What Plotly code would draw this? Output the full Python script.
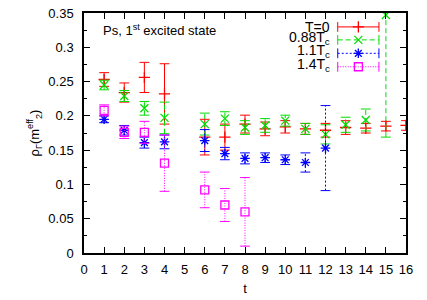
import plotly.graph_objects as go

# ---- data ----
t_T0 = [1, 2, 3, 4, 6, 7, 8, 9, 10, 11, 12, 13, 14, 15, 16]
v_T0 = [0.253, 0.234, 0.256, 0.232, 0.169, 0.169, 0.188, 0.181, 0.184, 0.181, 0.179, 0.183, 0.182, 0.185, 0.186]
e_T0 = [0.010, 0.014, 0.022, 0.044, 0.026, 0.019, 0.013, 0.010, 0.009, 0.008, 0.010, 0.010, 0.007, 0.007, 0.007]

t_088 = [1, 2, 3, 4, 6, 7, 8, 9, 10, 11, 12, 13, 14, 15]
v_088 = [0.245, 0.229, 0.211, 0.197, 0.188, 0.196, 0.183, 0.186, 0.193, 0.181, 0.173, 0.187, 0.194, 0.347]
e_088 = [0.007, 0.008, 0.010, 0.023, 0.016, 0.010, 0.010, 0.010, 0.008, 0.008, 0.014, 0.011, 0.016, 0.178]

t_11 = [1, 2, 3, 4, 6, 7, 8, 9, 10, 11, 12]
v_11 = [0.195, 0.179, 0.161, 0.162, 0.164, 0.145, 0.138, 0.139, 0.136, 0.132, 0.153]
e_11 = [0.005, 0.007, 0.008, 0.010, 0.016, 0.009, 0.008, 0.007, 0.007, 0.014, 0.062]

t_14 = [1, 2, 3, 4, 6, 7, 8]
v_14 = [0.208, 0.176, 0.176, 0.131, 0.092, 0.070, 0.060]
e_14 = [0.008, 0.009, 0.016, 0.041, 0.026, 0.024, 0.050]

labels = ["T=0", "0.88T<sub>c</sub>", "1.1T<sub>c</sub>", "1.4T<sub>c</sub>"]
colors = ["#ff0000", "#00dd00", "#0000ff", "#ff00ff"]
dashes = ["solid", "5px,3px", "2px,2px", "1px,1.5px"]
symbols = ["cross-thin-open", "x-thin-open", "asterisk-open", "square-open"]
msizes = [8, 8, 8, 8]
series = [(t_T0, v_T0, e_T0), (t_088, v_088, e_088), (t_11, v_11, e_11), (t_14, v_14, e_14)]

FONT = "Liberation Sans, Arial, sans-serif"
fig = go.Figure()

for (ts, vs, es), col, dsh, sym, ms in zip(series, colors, dashes, symbols, msizes):
    xs, ys = [], []
    for t, v, e in zip(ts, vs, es):
        xs += [t, t, None]
        ys += [v - e, v + e, None]
    fig.add_trace(go.Scatter(
        x=xs, y=ys, mode="lines+markers",
        line=dict(color=col, width=1, dash=dsh),
        marker=dict(symbol="line-ew-open", size=7, line=dict(color=col, width=1)),
        hoverinfo="skip", showlegend=False))
    fig.add_trace(go.Scatter(
        x=ts, y=vs, mode="markers",
        marker=dict(symbol=sym, size=ms, color=col, line=dict(color=col, width=1.3)),
        showlegend=False))

# ---- custom gnuplot-style key (overlay axes in fractional units) ----
key_y = [0.942, 0.888, 0.832, 0.776]
key_shift = [0, 2, 2, 2]
kx0, kx1 = 0.788, 0.916
for lab, col, dsh, sym, ky, ysh in zip(labels, colors, dashes, symbols, key_y, key_shift):
    fig.add_trace(go.Scatter(
        x=[kx0, kx1], y=[ky, ky], xaxis="x2", yaxis="y2", mode="lines+markers",
        line=dict(color=col, width=1, dash=dsh),
        marker=dict(symbol="line-ns-open", size=7, line=dict(color=col, width=1)),
        hoverinfo="skip", showlegend=False))
    fig.add_trace(go.Scatter(
        x=[(kx0 + kx1) / 2], y=[ky], xaxis="x2", yaxis="y2", mode="markers",
        marker=dict(symbol=sym, size=8, color=col, line=dict(color=col, width=1.3)),
        hoverinfo="skip", showlegend=False))
    fig.add_annotation(x=0.77, y=ky, xref="x2", yref="y2", text=lab, showarrow=False,
                       xanchor="right", yanchor="middle", yshift=ysh,
                       font=dict(family=FONT, size=14, color="black"))

fig.add_annotation(x=0.054, y=0.93, xref="x2", yref="y2",
                   text="Ps, 1<sup>st</sup> excited state", showarrow=False,
                   xanchor="left", yanchor="middle",
                   font=dict(family=FONT, size=13, color="black"))

axis_common = dict(showline=True, linecolor="black", linewidth=1.5, mirror="allticks",
                   ticks="inside", ticklen=6, tickcolor="black", tickwidth=1,
                   showgrid=False, zeroline=False,
                   tickfont=dict(family=FONT, size=13, color="black"))

fig.update_layout(
    width=427, height=300,
    margin=dict(l=84, r=21, t=6, b=44.5),
    plot_bgcolor="white", paper_bgcolor="white",
    showlegend=False,
    xaxis=dict(range=[0, 16], tickmode="linear", tick0=0, dtick=1,
               title=dict(text="t", font=dict(family=FONT, size=13, color="black"), standoff=8),
               ticklabelstandoff=4, **axis_common),
    yaxis=dict(range=[0, 0.35], tickmode="linear", tick0=0, dtick=0.05,
               minor=dict(dtick=0.025, ticks="inside", ticklen=3, tickcolor="black"),
               title=dict(text="ρ<sub>Γ</sub>(m<sup>eff</sup><sub>2</sub>)",
                          font=dict(family=FONT, size=13, color="black"), standoff=6),
               ticklabelstandoff=6, **axis_common),
    xaxis2=dict(overlaying="x", range=[0, 1], visible=False),
    yaxis2=dict(overlaying="y", range=[0, 1], visible=False),
)

fig.write_html("out.html", config={"displayModeBar": False},
               post_script="document.body.style.margin='0';")
